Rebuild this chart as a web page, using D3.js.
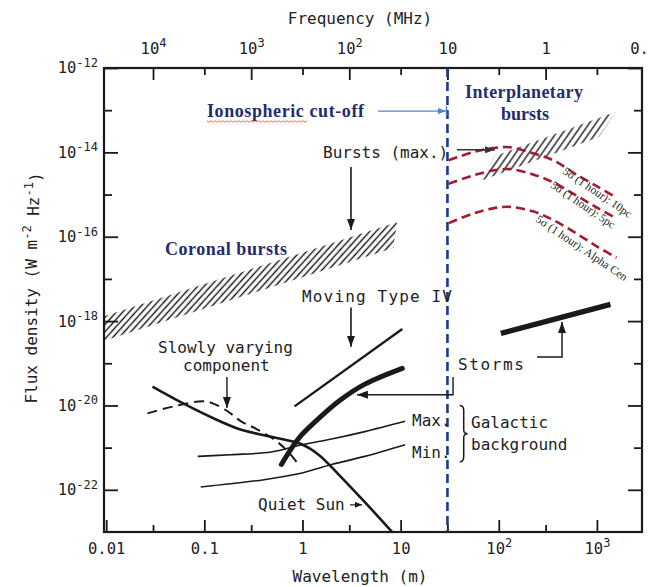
<!DOCTYPE html>
<html><head><meta charset="utf-8">
<script src="https://cdn.jsdelivr.net/npm/d3@7"></script>
<style>
body{margin:0;background:#fff;}
svg{display:block;}
</style></head><body>
<svg id="c" width="648" height="587"></svg>
<script>
// ---------- data ----------
const wavelengthTicks = [0.01, 0.1, 1, 10, 100, 1000];
const wavelengthTickLabels = ["0.01", "0.1", "1", "10", "10^2", "10^3"];
const wavelengthMinorTicks = [0.03, 0.3, 3, 30, 300];
const frequencyTicks = [1e4, 1e3, 1e2, 10, 1, 0.1];
const frequencyTickLabels = ["10^4", "10^3", "10^2", "10", "1", "0.1"];
const frequencyMinorTicks = [3000, 300, 30, 3, 0.3];
const fluxTicks = [1e-12, 1e-14, 1e-16, 1e-18, 1e-20, 1e-22];
const fluxTickLabels = ["10^-12", "10^-14", "10^-16", "10^-18", "10^-20", "10^-22"];
const fluxMinorTicks = [1e-13, 1e-15, 1e-17, 1e-19, 1e-21];

const ionosphericCutoff = 30; // metres (10 MHz)

const quietSunWavelength = [0.0296, 0.0617, 0.125, 0.221, 0.354, 0.61, 0.98, 1.46, 2.34, 4.32, 8.2];
const quietSunFlux = [2.8e-20, 1.1e-20, 4.9e-21, 2.8e-21, 2.1e-21, 1.6e-21, 1.2e-21, 6.8e-22, 2.3e-22, 5.1e-23, 1.0e-23];

const slowlyVaryingWavelength = [0.0263, 0.0486, 0.0966, 0.122, 0.174, 0.237, 0.337, 0.516, 0.718, 0.91];
const slowlyVaryingFlux = [6.5e-21, 9.5e-21, 1.26e-20, 1.12e-20, 7.2e-21, 4.2e-21, 2.8e-21, 1.55e-21, 7.9e-22, 4.0e-22];

const galacticMaxWavelength = [0.0857, 0.187, 0.48, 0.98, 1.98, 4.32, 11.1];
const galacticMaxFlux = [6.2e-22, 6.8e-22, 7.9e-22, 1.17e-21, 1.6e-21, 2.4e-21, 4.2e-21];

const galacticMinWavelength = [0.092, 0.407, 0.91, 1.98, 4.32, 11.1];
const galacticMinFlux = [1.17e-22, 1.74e-22, 2.4e-22, 4.0e-22, 6.2e-22, 1.17e-21];

const movingTypeIVWavelength = [0.83, 10.4];
const movingTypeIVFlux = [9.5e-21, 6.5e-19];

const typeIVContinuumWavelength = [0.61, 0.77, 0.98, 1.46, 2.34, 4.32, 10.4];
const typeIVContinuumFlux = [4.0e-22, 9.5e-22, 2.0e-21, 4.9e-21, 1.26e-20, 3.2e-20, 7.6e-20];

const stormsWavelength = [105, 1374];
const stormsFlux = [5.1e-19, 2.5e-18];

// hatched bands: corners LL, UL, UR, LR
const coronalBurstsWavelength = [0.0095, 0.0095, 9.2, 8.4];
const coronalBurstsFlux = [3.4e-19, 1.3e-18, 2.2e-16, 5.4e-17];
const interplanetaryBurstsWavelength = [61.4, 91.5, 1564, 1050];
const interplanetaryBurstsFlux = [2.0e-15, 8.2e-15, 9.2e-14, 2.3e-14];

// 5-sigma (1 hour) sensitivity curves
const sensitivityWavelength = [30.9, 54, 87, 130, 223, 358, 645, 1035, 1585];
const sensitivity10pcFlux = [6.5e-15, 1.0e-14, 1.26e-14, 1.32e-14, 9.5e-15, 6.5e-15, 2.8e-15, 1.5e-15, 8.5e-16];
const sensitivity5pcFlux = [1.8e-15, 2.8e-15, 3.7e-15, 4.0e-15, 3.0e-15, 1.95e-15, 8.9e-16, 4.7e-16, 2.7e-16];
const sensitivityAlphaCenFlux = [2.1e-16, 3.5e-16, 4.7e-16, 5.1e-16, 4.0e-16, 2.5e-16, 1.12e-16, 5.6e-17, 3.2e-17];

// ---------- layout ----------
const M = {left: 104, right: 642, top: 68, bottom: 532};
const svg = d3.select("#c");
const x = d3.scaleLog().domain([0.0095, 2880]).range([M.left, M.right]);
const y = d3.scaleLog().domain([1e-23, 1e-12]).range([M.bottom, M.top]);
const fx = d3.scaleLog().domain([300 / 0.0095, 300 / 2880]).range([M.left, M.right]);

const MONO = "'DejaVu Sans Mono', monospace";
const SERIF = "'Liberation Serif', 'DejaVu Serif', serif";
const INK = "#1a1a1a";
const NAVY = "#1f2d6e";

const defs = svg.append("defs");
defs.append("clipPath").attr("id", "plotClip").append("rect")
  .attr("x", M.left).attr("y", M.top).attr("width", M.right - M.left).attr("height", M.bottom - M.top);

function hatch(id, spacing, angle, color, width) {
  const p = defs.append("pattern").attr("id", id).attr("patternUnits", "userSpaceOnUse")
    .attr("width", spacing).attr("height", spacing).attr("patternTransform", `rotate(${angle})`);
  p.append("line").attr("x1", spacing / 2).attr("y1", 0).attr("x2", spacing / 2).attr("y2", spacing)
    .attr("stroke", color).attr("stroke-width", width);
}
hatch("hatchCoronal", 4.8, 42, "#111", 1.4);
hatch("hatchIP", 5.4, 35, "#555", 1.9);

function marker(id, color, len, wid) {
  defs.append("marker").attr("id", id).attr("markerUnits", "userSpaceOnUse")
    .attr("viewBox", `0 0 ${len} ${wid}`).attr("refX", len).attr("refY", wid / 2)
    .attr("markerWidth", len).attr("markerHeight", wid).attr("orient", "auto")
    .append("path").attr("d", `M0,0L${len},${wid / 2}L0,${wid}Z`).attr("fill", color);
}
marker("arrK", INK, 11, 8);
marker("arrKs", INK, 7, 6);
marker("arrG", "#333", 10, 7);
marker("arrB", "#4f86c6", 8, 6);

// ---------- axes ----------
function supLabels(sel, labels, supSize) {
  sel.each(function (d, i) {
    const t = d3.select(this);
    const parts = labels[i].split("^");
    t.text(null);
    t.append("tspan").text(parts[0]);
    if (parts[1]) t.append("tspan").attr("font-size", supSize).attr("dy", "-0.55em").text(parts[1]);
  });
}
function styleAxis(g) {
  g.select(".domain").remove();
  g.selectAll(".tick line").attr("stroke", INK).attr("stroke-width", 1.8);
  g.selectAll("text").attr("fill", "#222").attr("font-family", MONO).attr("font-size", 15.5);
}
// left
let g = svg.append("g").attr("transform", `translate(${M.left},0)`)
  .call(d3.axisLeft(y).tickValues(fluxTicks).tickSizeInner(-14).tickSizeOuter(0).tickPadding(6));
styleAxis(g); supLabels(g.selectAll(".tick text"), fluxTickLabels, 12);
g = svg.append("g").attr("transform", `translate(${M.left},0)`)
  .call(d3.axisLeft(y).tickValues(fluxMinorTicks).tickSizeInner(-8).tickSizeOuter(0).tickFormat(""));
styleAxis(g);
// right
g = svg.append("g").attr("transform", `translate(${M.right},0)`)
  .call(d3.axisRight(y).tickValues(fluxTicks).tickSizeInner(-14).tickSizeOuter(0).tickFormat(""));
styleAxis(g);
g = svg.append("g").attr("transform", `translate(${M.right},0)`)
  .call(d3.axisRight(y).tickValues(fluxMinorTicks).tickSizeInner(-8).tickSizeOuter(0).tickFormat(""));
styleAxis(g);
// bottom
g = svg.append("g").attr("transform", `translate(0,${M.bottom})`)
  .call(d3.axisBottom(x).tickValues(wavelengthTicks).tickSizeInner(-12).tickSizeOuter(0).tickPadding(11));
styleAxis(g); supLabels(g.selectAll(".tick text"), wavelengthTickLabels, 12);
g = svg.append("g").attr("transform", `translate(0,${M.bottom})`)
  .call(d3.axisBottom(x).tickValues(wavelengthMinorTicks).tickSizeInner(-7).tickSizeOuter(0).tickFormat(""));
styleAxis(g);
// top (frequency)
g = svg.append("g").attr("transform", `translate(0,${M.top})`)
  .call(d3.axisTop(fx).tickValues(frequencyTicks).tickSizeInner(-12).tickSizeOuter(0).tickPadding(14));
styleAxis(g); supLabels(g.selectAll(".tick text"), frequencyTickLabels, 12);
g.selectAll(".tick").filter(d => d < 0.2).select("line").remove();
g = svg.append("g").attr("transform", `translate(0,${M.top})`)
  .call(d3.axisTop(fx).tickValues(frequencyMinorTicks).tickSizeInner(-7).tickSizeOuter(0).tickFormat(""));
styleAxis(g);

// frame
svg.append("rect").attr("x", M.left).attr("y", M.top).attr("width", M.right - M.left)
  .attr("height", M.bottom - M.top).attr("fill", "none").attr("stroke", INK).attr("stroke-width", 2.2);

// axis titles
svg.append("text").attr("x", 360).attr("y", 24).attr("text-anchor", "middle")
  .attr("font-family", MONO).attr("font-size", 16).attr("fill", "#222").text("Frequency (MHz)");
svg.append("text").attr("x", 360).attr("y", 582).attr("text-anchor", "middle")
  .attr("font-family", MONO).attr("font-size", 16).attr("fill", "#222").text("Wavelength (m)");
const yt = svg.append("text").attr("transform", "translate(37,288) rotate(-90)").attr("text-anchor", "middle")
  .attr("font-family", MONO).attr("font-size", 16).attr("fill", "#222");
yt.append("tspan").text("Flux density (W m");
yt.append("tspan").attr("font-size", 12).attr("dy", "-0.5em").text("-2");
yt.append("tspan").attr("dy", "0.5em").text(" Hz");
yt.append("tspan").attr("font-size", 12).attr("dy", "-0.5em").text("-1");
yt.append("tspan").attr("dy", "0.5em").text(")");

// ---------- plot content ----------
const plot = svg.append("g").attr("clip-path", "url(#plotClip)");
const line = d3.line().x(d => x(d[0])).y(d => y(d[1])).curve(d3.curveCatmullRom.alpha(0.5));
const straight = d3.line().x(d => x(d[0])).y(d => y(d[1]));

// hatched bands
plot.append("path").attr("d", straight(d3.zip(coronalBurstsWavelength, coronalBurstsFlux)) + "Z")
  .attr("fill", "url(#hatchCoronal)");
plot.append("path").attr("d", straight(d3.zip(interplanetaryBurstsWavelength, interplanetaryBurstsFlux)) + "Z")
  .attr("fill", "url(#hatchIP)");

// ionospheric cut-off
plot.append("line").attr("x1", x(ionosphericCutoff)).attr("x2", x(ionosphericCutoff))
  .attr("y1", M.top).attr("y2", M.bottom).attr("stroke", "#1d3a8a").attr("stroke-width", 2.6)
  .attr("stroke-dasharray", "9,5");

// curves
function curve(xs, ys, w, dash, color) {
  const p = plot.append("path").attr("d", line(d3.zip(xs, ys))).attr("fill", "none")
    .attr("stroke", color || INK).attr("stroke-width", w).attr("stroke-linecap", "butt");
  if (dash) p.attr("stroke-dasharray", dash);
  return p;
}
curve(galacticMaxWavelength, galacticMaxFlux, 1.6);
curve(galacticMinWavelength, galacticMinFlux, 1.6);
curve(slowlyVaryingWavelength, slowlyVaryingFlux, 2, "10,6");
curve(quietSunWavelength, quietSunFlux, 2.6);
curve(movingTypeIVWavelength, movingTypeIVFlux, 2.4);
curve(typeIVContinuumWavelength, typeIVContinuumFlux, 5).attr("stroke-linecap", "round");
curve(stormsWavelength, stormsFlux, 5.5);
const RED = "#a21b2f";
curve(sensitivityWavelength, sensitivity10pcFlux, 2.6, "9,5", RED);
curve(sensitivityWavelength, sensitivity5pcFlux, 2.6, "9,5", RED);
curve(sensitivityWavelength, sensitivityAlphaCenFlux, 2.6, "9,5", RED);

// ---------- annotation arrows (data coordinates) ----------
function arrow(pts, color, w, mk) {
  plot.append("path").attr("d", straight(pts)).attr("fill", "none").attr("stroke", color)
    .attr("stroke-width", w).attr("marker-end", `url(#${mk})`);
}
arrow([[3.12, 4.5e-15], [3.12, 1.45e-16]], INK, 1.6, "arrK");           // Bursts (max.)
arrow([[37.5, 1.15e-14], [91.5, 1.15e-14]], "#333", 1.6, "arrG");        // to interplanetary bursts
arrow([[3.12, 2.1e-18], [3.12, 2.45e-19]], INK, 1.6, "arrK");           // Moving Type IV
arrow([[0.170, 4.7e-20], [0.170, 8.7e-21]], INK, 1.4, "arrK");          // slowly varying
arrow([[245, 1.4e-19], [441, 1.4e-19], [441, 9.5e-19]], INK, 1.5, "arrK"); // storms
arrow([[34.2, 4.7e-20], [34.2, 1.8e-20], [3.59, 1.8e-20]], INK, 1.4, "arrK"); // to type IV continuum
arrow([[3.05, 4.4e-23], [4.04, 4.4e-23]], INK, 1.2, "arrKs");           // Quiet Sun
arrow([[5.88, 9.5e-14], [29.0, 9.5e-14]], "#4f86c6", 1.1, "arrB");      // ionospheric
plot.append("line").attr("x1", x(29.3)).attr("x2", x(29.3)).attr("y1", y(9.5e-14) - 5).attr("y2", y(9.5e-14) + 5)
  .attr("stroke", "#4f86c6").attr("stroke-width", 1.4);

// brace for galactic background
{
  const bx = x(40), t = y(1.0e-20), b = y(4.6e-22), m = (t + b) / 2;
  plot.append("path").attr("fill", "none").attr("stroke", INK).attr("stroke-width", 1.5)
    .attr("d", `M${bx},${t} Q${bx + 4},${t} ${bx + 4},${t + 5} L${bx + 4},${m - 4} Q${bx + 4},${m} ${bx + 8},${m}
      Q${bx + 4},${m} ${bx + 4},${m + 4} L${bx + 4},${b - 5} Q${bx + 4},${b} ${bx},${b}`);
}

// ---------- labels ----------
function monoText(txt, tx, ty, opts = {}) {
  const t = svg.append("text").attr("x", tx).attr("y", ty).attr("font-family", MONO)
    .attr("font-size", opts.size || 16).attr("fill", "#222").text(txt);
  if (opts.len) t.attr("textLength", opts.len).attr("lengthAdjust", "spacing");
  return t;
}
monoText("Bursts (max.)", 323, 158);
monoText("Moving Type IV", 302, 302, {len: 150});
monoText("Slowly varying", 158, 353);
monoText("component", 183, 371);
monoText("Quiet Sun", 258, 510);
monoText("Max.", 412, 426);
monoText("Min.", 412, 458);
monoText("Galactic", 471, 428);
monoText("background", 471, 450);
monoText("Storms", 458, 370, {len: 66});

function serifText(txt, tx, ty, len, anchor) {
  const t = svg.append("text").attr("x", tx).attr("y", ty).attr("font-family", SERIF)
    .attr("font-weight", "bold").attr("font-size", 18).attr("fill", NAVY).text(txt);
  if (len) t.attr("textLength", len).attr("lengthAdjust", "spacing");
  if (anchor) t.attr("text-anchor", anchor);
  return t;
}
serifText("Ionospheric cut-off", 207, 117, 157);
serifText("Interplanetary", 465, 98, 118);
serifText("bursts", 525, 120, null, "middle");
serifText("Coronal bursts", 165, 255, 122);

// spell-check squiggle under "Ionospheric"
{
  let d = "M207,121";
  for (let i = 1; i <= 50; i++) d += ` L${207 + i * 2},${121 + (i % 2 ? 1.3 : -0.3)}`;
  svg.append("path").attr("d", d).attr("fill", "none").attr("stroke", "#e2453c").attr("stroke-width", 0.8);
}

// sensitivity curve labels
function rotText(txt, tx, ty) {
  svg.append("text").attr("transform", `translate(${tx},${ty}) rotate(34)`)
    .attr("font-family", SERIF).attr("font-size", 11.5).attr("fill", "#222").text(txt);
}
rotText("5σ (1 hour): 10pc", 562, 173);
rotText("5σ (1 hour): 5pc", 550, 187);
rotText("5σ (1 hour): Alpha Cen", 535, 221);
</script>
</body></html>
